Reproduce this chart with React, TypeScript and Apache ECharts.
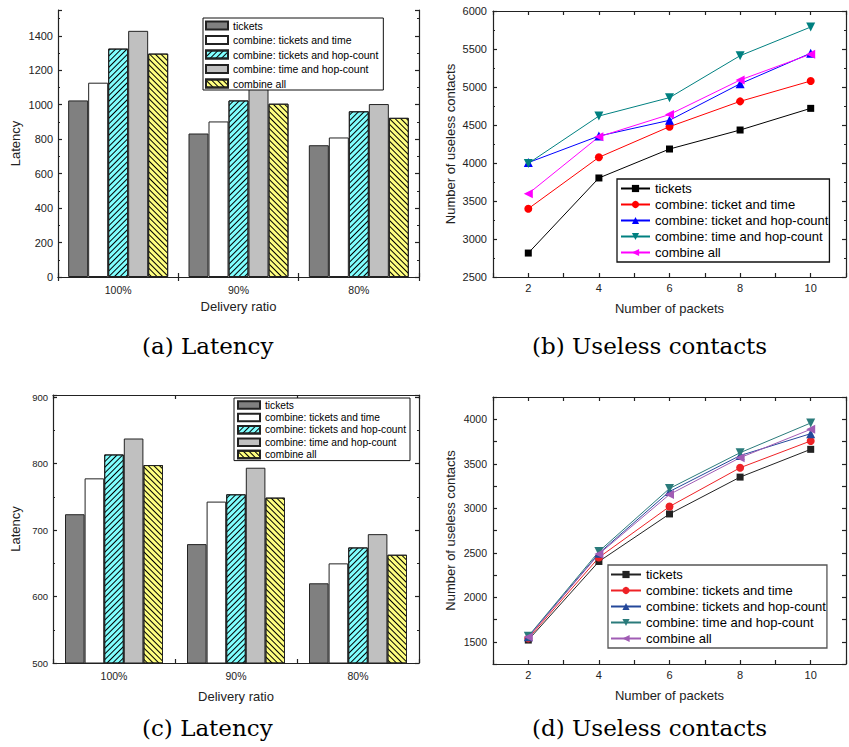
import React, { useEffect, useRef } from 'react';
import * as echarts from 'echarts';

// ---------------- data ----------------
const deliveryRatios = ['100%', '90%', '80%'];
const barSeriesNames = [
  'tickets',
  'combine: tickets and time',
  'combine: tickets and hop-count',
  'combine: time and hop-count',
  'combine all',
];

// (a) Latency
const latencyA_tickets = [1025, 833, 765];
const latencyA_ticketsTime = [1128, 903, 810];
const latencyA_ticketsHop = [1326, 1025, 962];
const latencyA_timeHop = [1429, 1097, 1004];
const latencyA_all = [1297, 1006, 924];

// (c) Latency
const latencyC_tickets = [724, 679, 620];
const latencyC_ticketsTime = [778, 743, 650];
const latencyC_ticketsHop = [814, 754, 674];
const latencyC_timeHop = [838, 794, 694];
const latencyC_all = [798, 749, 663];

// (b) & (d) Useless contacts
const packets = [2, 4, 6, 8, 10];
const lineNamesB = [
  'tickets',
  'combine: ticket and time',
  'combine: ticket and hop-count',
  'combine: time and hop-count',
  'combine all',
];
const lineNamesD = [
  'tickets',
  'combine: tickets and time',
  'combine: tickets and hop-count',
  'combine: time and hop-count',
  'combine all',
];
const uselessB_tickets = [2815, 3803, 4184, 4434, 4719];
const uselessB_ticketTime = [3399, 4075, 4478, 4811, 5079];
const uselessB_ticketHop = [4005, 4355, 4562, 5042, 5445];
const uselessB_timeHop = [3995, 4618, 4860, 5412, 5789];
const uselessB_all = [3596, 4345, 4638, 5092, 5432];

const uselessD_tickets = [1519, 2402, 2936, 3350, 3662];
const uselessD_ticketsTime = [1538, 2447, 3019, 3455, 3756];
const uselessD_ticketsHop = [1556, 2494, 3188, 3592, 3838];
const uselessD_timeHop = [1562, 2515, 3222, 3624, 3958];
const uselessD_all = [1552, 2485, 3155, 3568, 3887];

// ---------------- styles ----------------
const FONT = '"Liberation Sans", Arial, sans-serif';
const CAPTION_FONT = '23px "DejaVu Serif", serif';
const LINE = { color: '#222', width: 1.2 };

const barColors = ['#808080', '#ffffff', '#80ffff', '#c0c0c0', '#ffff80'];
const hatchFwd = {
  symbol: 'rect', symbolSize: 1, dashArrayX: [1, 0], dashArrayY: [1, 3],
  rotation: -Math.PI / 4, color: '#000',
};
const hatchBack = {
  symbol: 'rect', symbolSize: 1, dashArrayX: [1, 0], dashArrayY: [1, 3],
  rotation: Math.PI / 4, color: '#000',
};
const barDecals: any[] = [null, null, hatchFwd, null, hatchBack];

const lineColorsB = ['#000000', '#ff0000', '#0000ff', '#008080', '#ff00ff'];
const lineColorsD = ['#222222', '#ee2226', '#24489a', '#2a7b7b', '#a05cb4'];
const markerShapes = ['rect', 'circle', 'triangle', 'triangle', 'triangle'];
const markerRotate = [0, 0, 0, 180, 90];
const markerSizes = [7, 8, 9, 9, 9];

const tick = { show: true, inside: true, length: 4, lineStyle: LINE };
const minorTick = { show: true, inside: true, splitNumber: 2, length: 2, lineStyle: LINE };

function caption(text: string, x: number, y: number) {
  return {
    type: 'text',
    x,
    y,
    style: { text, font: CAPTION_FONT, fill: '#000', align: 'left', verticalAlign: 'middle' },
  };
}

function makeBarOption(cfg: any) {
  const fmt = (v: number) => (Math.abs(v % cfg.yInterval) < 1e-6 ? String(v) : '');
  const yBase = {
    type: 'value', min: cfg.yMin, max: cfg.yMax, interval: cfg.yInterval,
    axisLine: { show: true, lineStyle: LINE }, axisTick: tick, minorTick,
    splitLine: { show: false }, minorSplitLine: { show: false },
  };
  return {
    animation: false,
    backgroundColor: 'transparent',
    textStyle: { fontFamily: FONT },
    grid: cfg.grid,
    legend: {
      orient: 'vertical', left: cfg.legend.left, top: cfg.legend.top, padding: cfg.legend.padding,
      itemWidth: cfg.legend.itemWidth, itemHeight: cfg.legend.itemHeight, itemGap: cfg.legend.itemGap,
      icon: 'rect', borderColor: '#111', borderWidth: 1, backgroundColor: '#fff', borderRadius: 0,
      textStyle: { fontSize: cfg.legend.fontSize, color: '#000', fontFamily: FONT },
      data: barSeriesNames,
    },
    xAxis: [
      {
        type: 'category', data: deliveryRatios, position: 'bottom',
        axisLine: { lineStyle: LINE }, axisTick: tick,
        axisLabel: { fontSize: cfg.xLabelSize, color: '#222', margin: 7, fontFamily: FONT },
        name: 'Delivery ratio', nameLocation: 'middle', nameGap: cfg.xNameGap,
        nameTextStyle: { fontSize: 13, color: '#222', fontFamily: FONT },
      },
      {
        type: 'category', data: deliveryRatios, position: 'top',
        axisLine: { lineStyle: LINE }, axisTick: tick, axisLabel: { show: false },
      },
    ],
    yAxis: [
      {
        ...yBase, position: 'left',
        axisLabel: { fontSize: cfg.yLabelSize, color: '#222', margin: 5, formatter: fmt, fontFamily: FONT },
        name: 'Latency', nameLocation: 'middle', nameGap: cfg.yNameGap,
        nameTextStyle: { fontSize: 13, color: '#222', fontFamily: FONT },
      },
      { ...yBase, position: 'right', axisLabel: { show: false } },
    ],
    series: barSeriesNames.map((name, i) => {
      const itemStyle: any = { color: barColors[i], borderColor: '#222', borderWidth: 1 };
      if (barDecals[i]) itemStyle.decal = barDecals[i];
      return {
        type: 'bar', name, data: cfg.series[i], xAxisIndex: 0, yAxisIndex: 0,
        barWidth: cfg.barWidth, barGap: '0%', itemStyle,
      };
    }),
    graphic: [caption(cfg.caption, cfg.captionX, cfg.captionY)],
  };
}

function makeLineOption(cfg: any) {
  const xFmt = (v: number) => (v % 2 === 0 ? String(v) : '');
  const yFmt = (v: number) => (v % cfg.yLabelStep === 0 ? String(v) : '');
  const xBase = {
    type: 'value', min: 1, max: 11, interval: 1,
    axisLine: { show: true, lineStyle: LINE }, axisTick: tick, splitLine: { show: false },
  };
  const yBase: any = {
    type: 'value', min: cfg.yMin, max: cfg.yMax, interval: cfg.yInterval,
    axisLine: { show: true, lineStyle: LINE }, axisTick: tick, splitLine: { show: false },
    minorSplitLine: { show: false },
  };
  if (cfg.yMinor) yBase.minorTick = minorTick;
  return {
    animation: false,
    backgroundColor: 'transparent',
    textStyle: { fontFamily: FONT },
    grid: cfg.grid,
    legend: {
      orient: 'vertical', left: cfg.legend.left, top: cfg.legend.top, padding: cfg.legend.padding,
      itemWidth: cfg.legend.itemWidth, itemHeight: cfg.legend.itemHeight, itemGap: cfg.legend.itemGap,
      borderColor: cfg.legend.borderColor, borderWidth: 1.3, backgroundColor: '#fff',
      textStyle: { fontSize: cfg.legend.fontSize, color: '#000', fontFamily: FONT },
      data: cfg.names,
    },
    xAxis: [
      {
        ...xBase, position: 'bottom',
        axisLabel: { fontSize: 11, color: '#222', margin: 5, formatter: xFmt, fontFamily: FONT },
        name: 'Number of packets', nameLocation: 'middle', nameGap: cfg.xNameGap,
        nameTextStyle: { fontSize: 13, color: '#222', fontFamily: FONT },
      },
      { ...xBase, position: 'top', axisLabel: { show: false } },
    ],
    yAxis: [
      {
        ...yBase, position: 'left',
        axisLabel: { fontSize: cfg.yLabelSize, color: '#222', margin: 6, formatter: yFmt, fontFamily: FONT },
        name: 'Number of useless contacts', nameLocation: 'middle', nameGap: cfg.yNameGap,
        nameTextStyle: { fontSize: 13, color: '#222', fontFamily: FONT },
      },
      { ...yBase, position: 'right', axisLabel: { show: false } },
    ],
    series: cfg.names.map((name: string, i: number) => ({
      type: 'line', name, xAxisIndex: 0, yAxisIndex: 0,
      data: packets.map((x, j) => [x, cfg.series[i][j]]),
      symbol: markerShapes[i], symbolSize: markerSizes[i], symbolRotate: markerRotate[i],
      lineStyle: { width: 1, color: cfg.colors[i] },
      itemStyle: { color: cfg.colors[i] },
    })),
    graphic: [caption(cfg.caption, cfg.captionX, cfg.captionY)],
  };
}

const optionA = makeBarOption({
  grid: { left: 58, top: 10, width: 361, height: 267 },
  yMin: 0, yMax: 1550, yInterval: 200, yLabelSize: 11, xLabelSize: 10.5,
  yNameGap: 36, xNameGap: 23, barWidth: 20,
  series: [latencyA_tickets, latencyA_ticketsTime, latencyA_ticketsHop, latencyA_timeHop, latencyA_all],
  legend: { left: 203, top: 18, padding: [2, 5, 1, 2], itemWidth: 22, itemHeight: 8, itemGap: 3.5, fontSize: 10.5 },
  caption: '(a) Latency', captionX: 142, captionY: 346,
});

const optionC = makeBarOption({
  grid: { left: 53, top: 395, width: 366, height: 268 },
  yMin: 500, yMax: 903.5, yInterval: 100, yLabelSize: 9.5, xLabelSize: 10.5,
  yNameGap: 31, xNameGap: 27, barWidth: 19.6,
  series: [latencyC_tickets, latencyC_ticketsTime, latencyC_ticketsHop, latencyC_timeHop, latencyC_all],
  legend: { left: 234, top: 398, padding: [2, 4, 1, 3], itemWidth: 22, itemHeight: 7.5, itemGap: 2.4, fontSize: 10.2 },
  caption: '(c) Latency', captionX: 142, captionY: 728,
});

const optionB = makeLineOption({
  grid: { left: 493, top: 11, width: 361, height: 266 },
  yMin: 2500, yMax: 6000, yInterval: 500, yLabelStep: 500, yMinor: true, yLabelSize: 11,
  yNameGap: 36, xNameGap: 25,
  names: lineNamesB, colors: lineColorsB,
  series: [uselessB_tickets, uselessB_ticketTime, uselessB_ticketHop, uselessB_timeHop, uselessB_all],
  legend: { left: 617, top: 179, padding: [3, 1, 3, 3], itemWidth: 29, itemHeight: 9, itemGap: 3, fontSize: 13, borderColor: '#111' },
  caption: '(b) Useless contacts', captionX: 532, captionY: 346,
});

const optionD = makeLineOption({
  grid: { left: 493, top: 397, width: 361, height: 267 },
  yMin: 1250, yMax: 4250, yInterval: 250, yLabelStep: 500, yMinor: false, yLabelSize: 10.5,
  yNameGap: 36, xNameGap: 25,
  names: lineNamesD, colors: lineColorsD,
  series: [uselessD_tickets, uselessD_ticketsTime, uselessD_ticketsHop, uselessD_timeHop, uselessD_all],
  legend: { left: 608, top: 565, padding: [3, 1, 3, 2], itemWidth: 30, itemHeight: 9, itemGap: 3, fontSize: 13, borderColor: '#555' },
  caption: '(d) Useless contacts', captionX: 532, captionY: 728,
});

function ChartLayer({ option }: { option: any }) {
  const ref = useRef<HTMLDivElement | null>(null);
  useEffect(() => {
    if (!ref.current) return;
    const chart = echarts.init(ref.current, null, { renderer: 'svg' });
    chart.setOption(option);
    return () => chart.dispose();
  }, [option]);
  return (
    <div
      ref={ref}
      style={{ position: 'absolute', left: 0, top: 0, width: 849, height: 747 }}
    />
  );
}

export default function App() {
  return (
    <div
      style={{
        position: 'fixed', left: 0, top: 0, width: 849, height: 747,
        background: '#fff', overflow: 'hidden',
      }}
    >
      <ChartLayer option={optionA} />
      <ChartLayer option={optionB} />
      <ChartLayer option={optionC} />
      <ChartLayer option={optionD} />
    </div>
  );
}
